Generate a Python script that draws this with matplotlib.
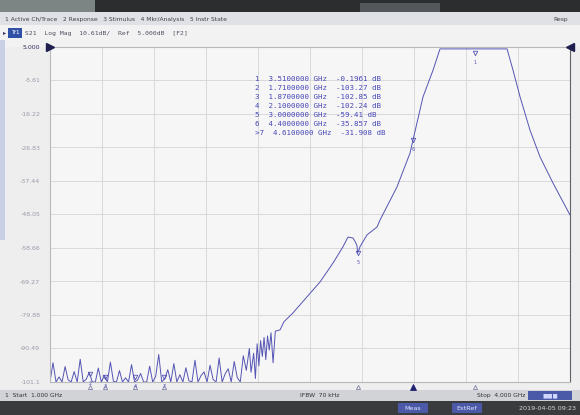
import matplotlib
matplotlib.use("Agg")
import matplotlib.pyplot as plt
import matplotlib.transforms as mtransforms
from matplotlib.patches import Rectangle
import numpy as np

# sweep settings
start_ghz = 1.0
stop_ghz = 4.0
ref_db = 5.0
scale_db = 10.61

# noise floor part of the S21 trace (dB), uniform sweep from 1.0 to 2.15 GHz
noise_db = [-101.1, -95.0, -101.1, -99.5, -101.1, -96.2, -100.4, -101.1, -97.8, -101.1,
            -93.9, -101.1, -100.2, -98.1, -101.1, -101.1, -96.7, -101.1, -99.0, -101.1,
            -94.8, -100.9, -101.1, -97.5, -101.1, -99.8, -101.1, -95.6, -101.1, -100.5,
            -98.4, -101.1, -101.1, -96.1, -101.1, -99.3, -92.4, -101.1, -100.0, -97.2,
            -101.1, -95.3, -101.1, -98.8, -101.1, -96.6, -100.7, -101.1, -94.2, -101.1,
            -99.1, -97.9, -101.1, -95.8, -100.3, -101.1, -93.5, -101.1, -98.5, -96.9,
            -101.1, -94.6, -99.7, -101.1, -92.8, -97.4, -90.5]

# filter skirt and passband
band_ghz = [2.16, 2.175, 2.185, 2.195, 2.205, 2.215, 2.225, 2.235, 2.245, 2.255,
            2.265, 2.275, 2.287, 2.30, 2.327, 2.35, 2.402, 2.483, 2.558, 2.633,
            2.69, 2.719, 2.748, 2.762, 2.771, 2.775, 2.781, 2.788, 2.829, 2.887,
            2.904, 3.002, 3.077, 3.094, 3.152, 3.21, 3.25, 3.35, 3.45, 3.55,
            3.637, 3.671, 3.712, 3.769, 3.827, 3.902, 4.0]
band_db = [-98.0, -92.0, -100.0, -89.0, -96.0, -88.0, -93.0, -87.0, -94.0, -86.5,
           -91.0, -85.5, -95.0, -85.0, -84.6, -82.0, -79.2, -74.1, -69.4, -63.4,
           -58.3, -55.2, -55.5, -56.8, -57.9, -60.2, -59.5, -58.3, -54.5, -52.0,
           -49.8, -39.3, -28.6, -24.5, -10.8, -2.3, 4.4, 4.4, 4.4, 4.4,
           4.4, -2.3, -10.8, -21.3, -29.8, -38.1, -48.2]

# markers
mkr_ids = ["1", "2", "3", "4", "5", "6", "7"]
mkr_ghz = [3.452, 1.23, 1.32, 1.49, 2.775, 3.094, 1.66]
active_mkr = "6"
mkr_table = [
    "1  3.5100000 GHz  -0.1961 dB",
    "2  1.7100000 GHz  -103.27 dB",
    "3  1.8700000 GHz  -102.85 dB",
    "4  2.1000000 GHz  -102.24 dB",
    "5  3.0000000 GHz  -59.41 dB",
    "6  4.4000000 GHz  -35.857 dB",
    ">7  4.6100000 GHz  -31.908 dB",
]

freq = np.concatenate([np.linspace(start_ghz, 2.15, len(noise_db)), band_ghz])
s21 = np.concatenate([noise_db, band_db])

trace_col = "#5454b4"

fig = plt.figure(figsize=(5.8, 4.15), dpi=100)
fig.patch.set_facecolor("#eeeeef")

W, H = 580.0, 415.0
def box(x0, y0, x1, y1, color):
    # screen chrome drawn behind the axes
    fig.patches.append(Rectangle((x0 / W, 1 - y1 / H), (x1 - x0) / W, (y1 - y0) / H,
                                 transform=fig.transFigure, facecolor=color,
                                 edgecolor="none", zorder=-1))

box(0, 0, 580, 12, "#2c2d2e")
box(0, 0, 95, 12, "#7d8584")
box(360, 3, 440, 12, "#55585a")
box(0, 12, 580, 25, "#dfe1e6")
box(0, 25, 580, 47, "#f2f2f3")
box(0, 40, 5, 240, "#c9d0e6")
box(0, 390, 580, 401, "#d2d3d6")
box(0, 401, 580, 415, "#3a3b3d")
box(528, 391, 572, 400, "#4a5aa8")
box(398, 403, 428, 413, "#4a5aa8")
box(452, 403, 482, 413, "#4a5aa8")
box(8, 28, 22, 38, "#3050a8")

fig.text(5 / W, 1 - 19 / H, "1 Active Ch/Trace   2 Response   3 Stimulus   4 Mkr/Analysis   5 Instr State",
         fontsize=4.3, color="#404048", va="center")
fig.text(568 / W, 1 - 19 / H, "Resp", fontsize=4.3, color="#404048", va="center", ha="right")
fig.text(3 / W, 1 - 33 / H, "\u25b8", fontsize=4.5, color="#303060", va="center")
fig.text(15 / W, 1 - 33 / H, "Tr1", fontsize=4.2, color="white", va="center", ha="center")
fig.text(25 / W, 1 - 33 / H,
         "S21  Log Mag  %.2fdB/  Ref  %.3fdB  [F2]" % (scale_db, ref_db),
         fontsize=4.6, color="#505060", va="center", family="DejaVu Sans Mono")
fig.text(5 / W, 1 - 395.5 / H, "1  Start  %.3f GHz" % start_ghz, fontsize=4.3, color="#303038", va="center")
fig.text(300 / W, 1 - 395.5 / H, "IFBW  70 kHz", fontsize=4.3, color="#303038", va="center")
fig.text(525 / W, 1 - 395.5 / H, "Stop  %.3f GHz" % stop_ghz, fontsize=4.3, color="#303038",
         va="center", ha="right")
fig.text(550 / W, 1 - 395.5 / H, "\u25a0\u25a0\u25a0", fontsize=4, color="#d0d8ff", va="center", ha="center")
fig.text(413 / W, 1 - 408 / H, "Meas", fontsize=4.6, color="#e0e4ff", va="center", ha="center")
fig.text(467 / W, 1 - 408 / H, "ExtRef", fontsize=4.6, color="#e0e4ff", va="center", ha="center")
fig.text(576 / W, 1 - 408 / H, "2019-04-05 09:23", fontsize=4.6, color="#d8d8d8",
         va="center", ha="right")

# measurement area
ax = fig.add_axes([50 / W, 1 - 382 / H, 520 / W, 335 / H])
ax.set_facecolor("#f6f6f6")
ax.set_xlim(start_ghz, stop_ghz)
ax.set_ylim(ref_db - 10 * scale_db, ref_db)
ax.set_xticks(np.linspace(start_ghz, stop_ghz, 11))
yt = ref_db - scale_db * np.arange(11)
ax.set_yticks(yt)
ylabels = ["%.3f" % v if i == 0 else ("%.1f" % v if abs(v) >= 100 else "%.2f" % v)
           for i, v in enumerate(yt)]
ax.set_yticklabels(ylabels)
ax.tick_params(axis="y", length=0, pad=7, labelsize=4.5, labelcolor="#9a9aa8")
ax.get_yticklabels()[0].set_color("#303060")
ax.tick_params(axis="x", length=0, labelbottom=False)
ax.grid(True, color="#dadadd", linewidth=0.7)
for s in ax.spines.values():
    s.set_color("#b8b8bc")
    s.set_linewidth(0.8)
ax.spines["right"].set_color("#606068")

ax.plot(freq, np.clip(s21, ref_db - 10 * scale_db, ref_db), color=trace_col, linewidth=0.7)

# reference arrows
ax.plot([start_ghz], [ref_db], marker=">", color="#202050", markersize=6, clip_on=False, zorder=5)
ax.plot([stop_ghz], [ref_db], marker="<", color="#202050", markersize=6, clip_on=False, zorder=5)

# markers on the trace and below the axis
btrans = mtransforms.blended_transform_factory(ax.transData, ax.transAxes)
for mid, mf in zip(mkr_ids, mkr_ghz):
    my = np.interp(mf, freq, s21)
    my = min(max(my, ref_db - 10 * scale_db + 1.5), ref_db - 2.0)
    ax.plot([mf], [my], marker="v", markersize=3.2, markerfacecolor="none",
            markeredgecolor=trace_col, markeredgewidth=0.6)
    ax.text(mf, my - 2.2, mid, fontsize=3.5, color=trace_col, ha="center", va="top")
    filled = mid == active_mkr
    ax.plot([mf], [-0.014], marker="^", markersize=4.5 if filled else 3,
            markerfacecolor="#202070" if filled else "none",
            markeredgecolor="#202070" if filled else "#8080a8",
            markeredgewidth=0.6, transform=btrans, clip_on=False)

for i, line in enumerate(mkr_table):
    ax.text(0.395, 0.905 - i * 0.027, line, transform=ax.transAxes, fontsize=5.4,
            color="#4848b8", family="DejaVu Sans Mono", va="center")

fig.savefig("out.png", dpi=100)
